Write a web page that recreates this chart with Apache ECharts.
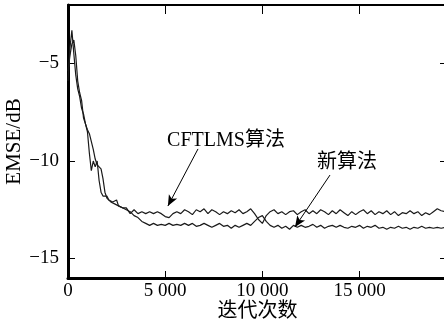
<!DOCTYPE html>
<html>
<head>
<meta charset="utf-8">
<script src="https://cdn.jsdelivr.net/npm/echarts@6/dist/echarts.min.js"></script>
<style>
  html, body { margin: 0; padding: 0; background: #fff; }
  #chart { width: 444px; height: 324px; }
</style>
</head>
<body>
<div id="chart"></div>
<script>
// iterations (dense during the transient, sparser afterwards)
const iters = [
  0, 100, 200, 300, 400, 500, 600, 700, 800, 900, 1000, 1100, 1200, 1300, 1400, 1500,
  1600, 1700, 1800, 1900, 2000, 2100, 2200, 2300, 2400, 2500, 2600, 2700, 2800, 2900, 3000,
  3200, 3400, 3600, 3800, 4000, 4200, 4400, 4600, 4800, 5000, 5200, 5400, 5600, 5800, 6000,
  6200, 6400, 6600, 6800, 7000, 7200, 7400, 7600, 7800, 8000, 8200, 8400, 8600, 8800, 9000,
  9200, 9400, 9600, 9800, 10000, 10200, 10400, 10600, 10800, 11000, 11200, 11400, 11600, 11800, 12000,
  12200, 12400, 12600, 12800, 13000, 13200, 13400, 13600, 13800, 14000, 14200, 14400, 14600, 14800, 15000,
  15200, 15400, 15600, 15800, 16000, 16200, 16400, 16600, 16800, 17000, 17200, 17400, 17600, 17800, 18000,
  18200, 18400, 18600, 18800, 19000, 19200, 19400
];

// EMSE (dB) of the new algorithm (lower curve)
const newAlg = [
  -5.9, -4.2, -3.3, -4.5, -5.6, -6.3, -6.7, -7.3, -7.6, -8.1, -8.5, -9.6, -10.5, -10.0, -10.3, -10.0,
  -11.0, -11.6, -11.8, -11.9, -11.8, -12.0, -11.9, -12.1, -12.2, -12.0, -12.3, -12.2, -12.4, -12.3, -12.5,
  -12.6, -12.8, -12.9, -13.1, -13.2, -13.3, -13.2, -13.3, -13.25, -13.3, -13.2, -13.3, -13.25, -13.3, -13.2,
  -13.3, -13.2, -13.35, -13.3, -13.2, -13.3, -13.4, -13.3, -13.2, -13.35, -13.3, -13.45, -13.3, -13.4, -13.3,
  -13.2, -13.3, -13.1, -12.9, -12.8, -13.1, -13.3, -13.4, -13.3, -13.45, -13.35, -13.5, -13.3, -13.4, -13.3,
  -13.4, -13.35, -13.25, -13.4, -13.3, -13.45, -13.35, -13.3, -13.4, -13.3, -13.4, -13.45, -13.35, -13.4, -13.3,
  -13.45, -13.35, -13.4, -13.3, -13.45, -13.4, -13.5, -13.4, -13.45, -13.35, -13.45, -13.4, -13.5, -13.4, -13.45,
  -13.35, -13.45, -13.4, -13.45, -13.4, -13.45, -13.4
];

// EMSE (dB) of CFTLMS (upper curve)
const cftlms = [
  -5.4, -4.6, -4.0, -3.8, -4.6, -5.9, -6.5, -6.9, -7.8, -7.9, -8.4, -8.6, -8.7, -9.4, -9.9, -10.2,
  -10.1, -10.4, -10.9, -11.6, -11.9, -11.9, -12.1, -12.0, -12.2, -12.1, -12.3, -12.2, -12.4, -12.5, -12.4,
  -12.7, -12.5, -12.7, -12.6, -12.7, -12.6, -12.7, -12.6, -12.7, -12.85, -12.9, -12.7, -12.6, -12.7, -12.5,
  -12.6, -12.75, -12.5, -12.6, -12.45, -12.7, -12.5, -12.6, -12.75, -12.6, -12.7, -12.55, -12.65, -12.5, -12.7,
  -12.6, -12.45, -12.7, -13.0, -13.2, -12.8, -12.6, -12.5, -12.7, -12.6, -12.75, -12.6, -12.55, -12.75, -12.6,
  -12.5, -12.7, -12.55, -12.7, -12.5, -12.6, -12.75, -12.55, -12.7, -12.5, -12.65, -12.8, -12.6, -12.75, -12.6,
  -12.5, -12.7, -12.55, -12.75, -12.6, -12.7, -12.55, -12.75, -12.6, -12.8, -12.65, -12.7, -12.55, -12.7, -12.6,
  -12.8, -12.65, -12.75, -12.6, -12.45, -12.55, -12.6
];

const xTicks = [0, 5000, 10000, 15000];
const yTicks = [-15, -10, -5];

// annotation text and arrows, in data coordinates
const labelCft = { text: 'CFTLMS算法', at: [8130, -8.95] };
const labelNew = { text: '新算法', at: [14350, -10.1] };
const arrowCft = [[6690, -9.38], [5140, -12.31]];
const arrowNew = [[13480, -10.72], [11680, -13.38]];

const serif = 'Liberation Serif, Noto Sans CJK SC, serif';

function zip(xs, ys) {
  return xs.map((x, i) => [x, ys[i]]);
}

function fmtNum(v) {
  let s = String(Math.abs(v));
  if (s.length > 3) s = s.slice(0, s.length - 3) + ' ' + s.slice(-3);
  return (v < 0 ? '\u2212' : '') + s;
}

function annot(a) {
  return {
    symbol: 'circle',
    symbolSize: 0,
    itemStyle: { color: 'transparent' },
    label: {
      show: true, position: 'inside', color: '#000',
      fontFamily: serif, fontSize: 20, formatter: a.text
    },
    data: [{ coord: a.at, value: 0 }],
    silent: true
  };
}

function arrow(seg) {
  return {
    lineStyle: { color: '#000', width: 1, type: 'solid' },
    label: { show: false },
    silent: true,
    data: [[
      { coord: seg[0], symbol: 'none' },
      { coord: seg[1], symbol: 'arrow', symbolSize: [7, 11] }
    ]]
  };
}

const chart = echarts.init(document.getElementById('chart'), null, { renderer: 'canvas' });

const option = {
  animation: false,
  backgroundColor: '#fff',
  textStyle: { fontFamily: serif },
  grid: { left: 68, top: 5, width: 379, height: 273, outerBoundsMode: 'none', containLabel: false },
  xAxis: [
    {
      type: 'value', min: 0, max: 19500, position: 'bottom',
      name: '迭代次数', nameLocation: 'middle', nameGap: 24, nameMoveOverlap: false,
      nameTextStyle: { fontFamily: serif, fontSize: 20, color: '#000' },
      axisLine: { show: true, onZero: false, lineStyle: { color: '#000', width: 3 } },
      axisTick: { show: true, inside: true, length: 7, customValues: xTicks, lineStyle: { color: '#000', width: 1 } },
      axisLabel: { customValues: xTicks, formatter: fmtNum, fontFamily: serif, fontSize: 19, color: '#000', margin: 4 },
      splitLine: { show: false }
    },
    {
      type: 'value', min: 0, max: 19500, position: 'top',
      axisLine: { show: true, onZero: false, lineStyle: { color: '#000', width: 2 } },
      axisTick: { show: true, inside: true, length: 9, customValues: xTicks, lineStyle: { color: '#000', width: 1 } },
      axisLabel: { show: false },
      splitLine: { show: false }
    }
  ],
  yAxis: [
    {
      type: 'value', min: -16, max: -2, position: 'left',
      name: 'EMSE/dB', nameLocation: 'middle', nameGap: 43, nameRotate: 90, nameMoveOverlap: false,
      nameTextStyle: { fontFamily: serif, fontSize: 21, color: '#000' },
      axisLine: { show: true, onZero: false, lineStyle: { color: '#000', width: 3 } },
      axisTick: { show: true, inside: true, length: 7, customValues: yTicks, lineStyle: { color: '#000', width: 1 } },
      axisLabel: { customValues: yTicks, formatter: fmtNum, fontFamily: serif, fontSize: 19, color: '#000', margin: 9 },
      splitLine: { show: false }
    },
    {
      type: 'value', min: -16, max: -2, position: 'right',
      axisLine: { show: true, onZero: false, lineStyle: { color: '#000', width: 2 } },
      axisTick: { show: true, inside: true, length: 7, customValues: yTicks, lineStyle: { color: '#000', width: 1 } },
      axisLabel: { show: false },
      splitLine: { show: false }
    }
  ],
  series: [
    {
      name: '新算法', type: 'line', xAxisIndex: 0, yAxisIndex: 0,
      data: zip(iters, newAlg), showSymbol: false, symbol: 'none',
      lineStyle: { color: '#1a1a1a', width: 1.2 },
      markLine: arrow(arrowNew),
      markPoint: annot(labelNew)
    },
    {
      name: 'CFTLMS算法', type: 'line', xAxisIndex: 0, yAxisIndex: 0,
      data: zip(iters, cftlms), showSymbol: false, symbol: 'none',
      lineStyle: { color: '#1a1a1a', width: 1.2 },
      markLine: arrow(arrowCft),
      markPoint: annot(labelCft)
    }
  ]
};

chart.setOption(option);
</script>
</body>
</html>
